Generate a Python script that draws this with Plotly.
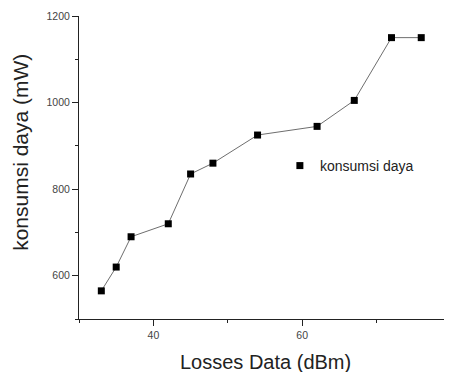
import plotly.graph_objects as go

losses_dbm = [33, 35, 37, 42, 45, 48, 54, 62, 67, 72, 76]
konsumsi_mw = [565, 620, 690, 720, 835, 860, 925, 945, 1005, 1150, 1150]
x_ticks = [40, 60, 80]
y_ticks = [600, 800, 1000, 1200]
series_name = "konsumsi daya"

FONT = "Liberation Sans, Arial, sans-serif"

fig = go.Figure()
fig.add_trace(go.Scatter(
    x=losses_dbm, y=konsumsi_mw, mode="lines+markers",
    name=series_name, showlegend=False,
    line=dict(color="#6e6e6e", width=1),
    marker=dict(symbol="square", size=7, color="black"),
))
# legend entry shows only the square marker
fig.add_trace(go.Scatter(
    x=[None], y=[None], mode="markers", name=series_name,
    marker=dict(symbol="square", size=7, color="black"),
))

axis_common = dict(
    showgrid=False, zeroline=False, showline=True, linecolor="#222", linewidth=1,
    ticks="outside", ticklen=6, tickwidth=1, tickcolor="#222",
    tickfont=dict(family=FONT, size=10.5, color="#444"),
    minor=dict(ticks="outside", ticklen=3, tickwidth=1, tickcolor="#222"),
    ticklabeloverflow="allow", automargin=False,
)

fig.update_xaxes(range=[30, 80], tickvals=x_ticks, ticktext=[str(v) for v in x_ticks],
                 minor_dtick=10, minor_tick0=30, **axis_common)
fig.update_yaxes(range=[500, 1200], tickvals=y_ticks, ticktext=[str(v) for v in y_ticks],
                 minor_dtick=100, minor_tick0=500, **axis_common)

fig.add_annotation(text="Losses Data (dBm)", xref="paper", yref="paper", x=0.5, y=0,
                   yshift=-30, yanchor="top", showarrow=False,
                   font=dict(family=FONT, size=20, color="#222"))
fig.add_annotation(text="konsumsi daya (mW)", xref="paper", yref="paper", x=0, y=0.55,
                   xshift=-45, xanchor="right", textangle=-90, showarrow=False,
                   font=dict(family=FONT, size=21, color="#222"))

# page body has an 8px margin, so the figure is laid out 8px smaller
fig.update_layout(
    width=444, height=364,
    margin=dict(l=71, r=1, t=8, b=53),
    paper_bgcolor="white", plot_bgcolor="white",
    showlegend=True,
    legend=dict(x=0.54, y=0.505, xanchor="left", yanchor="middle",
                bgcolor="rgba(0,0,0,0)",
                font=dict(family=FONT, size=14, color="#222")),
)

fig.write_html("out.html")
